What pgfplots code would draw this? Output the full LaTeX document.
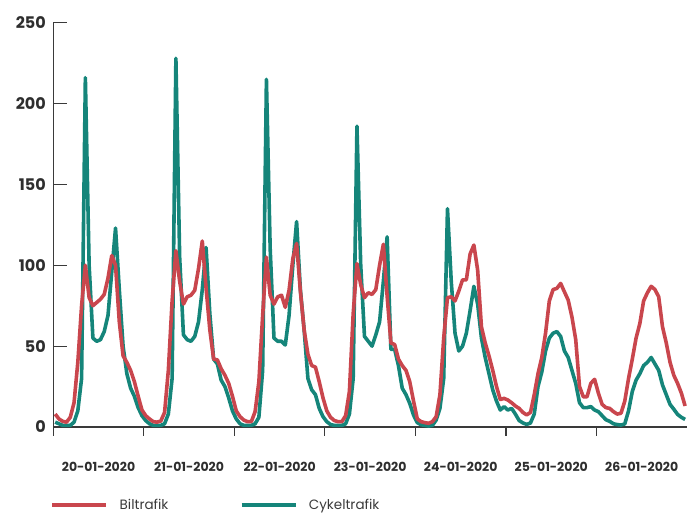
\documentclass[border=0pt]{standalone}
\usepackage{fontspec}
\setmainfont{Poppins}
\usepackage{pgfplots}
\pgfplotsset{compat=1.18}
\usepackage{pgfplotstable}

\definecolor{bil}{HTML}{C9464D}
\definecolor{cykel}{HTML}{15857A}
\definecolor{axisgray}{HTML}{3A3A3A}

% hourly counts, 20-01-2020 00:00 to 26-01-2020 23:00 (x = hour + 0.5)
\pgfplotstableread{
x bil cykel
0.5 8 3
1.5 5 2
2.5 3.5 1
3.5 3 1
4.5 6 1
5.5 15 3
6.5 40 10
7.5 75 30
8.5 100 216
9.5 80 100
10.5 75 55
11.5 77 53
12.5 79 54
13.5 82 59
14.5 92 69
15.5 106 96
16.5 100 123
17.5 65 85
18.5 44 50
19.5 40 33
20.5 35 24
21.5 28 19
22.5 19 12
23.5 10.5 7
24.5 7 4
25.5 5 2
26.5 3.3 1
27.5 3 1
28.5 3.7 1
29.5 9 2
30.5 35 8
31.5 78 30
32.5 109 228
33.5 90 105
34.5 76 57
35.5 80.5 54
36.5 81.5 53
37.5 84.5 56
38.5 98 65
39.5 115 85
40.5 86 111
41.5 60 70
42.5 42 42
43.5 41.5 39
44.5 36 29
45.5 32 25
46.5 27 18
47.5 19 10
48.5 10 5
49.5 6.4 2
50.5 4.3 1
51.5 3.3 1
52.5 3.3 1
53.5 9.5 2
54.5 28 6
55.5 69 35
56.5 105 215
57.5 81.5 110
58.5 76 55
59.5 80.5 53
60.5 81.5 53
61.5 74 50.7
62.5 84.5 69
63.5 104 100
64.5 113.5 127
65.5 84 85
66.5 60 60
67.5 45 30
68.5 38 23
69.5 37 20
70.5 28 11.5
71.5 18 6.4
72.5 10 3.3
73.5 6 1.5
74.5 4 1
75.5 3.3 1
76.5 3.3 1
77.5 7 2
78.5 22 8
79.5 70 30
80.5 101 186
81.5 88 100
82.5 80 56
83.5 83 53
84.5 82 50
85.5 85 57
86.5 100 65
87.5 113 90
88.5 81 117.6
89.5 52 48
90.5 51 48
91.5 42 38
92.5 38 24
93.5 35 20
94.5 28 14.6
95.5 16 7.4
96.5 5 2.7
97.5 3.3 1.4
98.5 2.7 1
99.5 2.3 0.6
100.5 3.3 1
101.5 6.4 4.3
102.5 20 11.5
103.5 55 30
104.5 80 135
105.5 80.5 90
106.5 78 58
107.5 84 47
108.5 91 50
109.5 91 58
110.5 107 72
111.5 112.5 87
112.5 97 76
113.5 62 55
114.5 52 43
115.5 44 33
116.5 35 23
117.5 25 16
118.5 17 10.5
119.5 17.7 12.6
120.5 16.7 10.5
121.5 15 11.5
122.5 13 8
123.5 11.5 4
124.5 9 2.5
125.5 7.5 1.6
126.5 9 2.5
127.5 20 8
128.5 33 25
129.5 43 34
130.5 58 47
131.5 78 55
132.5 85 58
133.5 85.7 59
134.5 88.8 56
135.5 83.6 47
136.5 78.5 43
137.5 68 35
138.5 54 27
139.5 25 15
140.5 18.7 12
141.5 18.7 12
142.5 27 12.6
143.5 29.5 10.5
144.5 21 9.5
145.5 14 7
146.5 12 4.5
147.5 11.5 3.5
148.5 9.5 2
149.5 8 1.5
150.5 8.5 1.2
151.5 16 1.9
152.5 30 10
153.5 42 22
154.5 55 29
155.5 64 33
156.5 78 38
157.5 83 40
158.5 87 43
159.5 85 39
160.5 80.5 35
161.5 62 26
162.5 52 20
163.5 40 14
164.5 32 11
165.5 27 7.8
166.5 21 6
167.5 13 4.7
}\traffic

\begin{document}
\begin{tikzpicture}
\path[use as bounding box] (-53.3pt,-87pt) rectangle (633.7pt,427pt);
\begin{axis}[
  scale only axis,
  width=633.7pt, height=404.3pt,
  xmin=0, xmax=168, ymin=0, ymax=250,
  axis x line=bottom, axis y line=left,
  axis line style={-, draw=axisgray, line width=1.2pt},
  tick align=inside, major tick length=14pt,
  ytick={0,50,100,150,200,250},
  ytick style={draw=axisgray, line width=1.2pt},
  xtick={12,36,60,84,108,132,156},
  xticklabels={20-01-2020,21-01-2020,22-01-2020,23-01-2020,24-01-2020,25-01-2020,26-01-2020},
  xtick style={draw=none},
  x tick label style={font=\fontsize{12.5}{14}\selectfont\bfseries, text=axisgray!80!black, yshift=-32pt},
  y tick label style={font=\fontsize{16}{18}\selectfont\bfseries, text=axisgray!80!black, xshift=-4pt},
  /pgf/number format/assume math mode=true,
  clip=false,
  legend columns=2,
  legend style={draw=none, fill=none, inner sep=0pt,
    at={(axis description cs:0,0)}, anchor=west, xshift=-3.3pt, yshift=-78pt,
    font=\fontsize{13.5}{14}\selectfont, text=axisgray,
    /tikz/every odd column/.style={column sep=9pt},
    /tikz/every even column/.style={column sep=69pt}},
  legend image code/.code={\draw[#1, line width=4.5pt] (0pt,0pt) -- (54pt,0pt);},
]
\pgfplotsinvokeforeach{0,24,48,72,96,120,144}{
  \draw[axisgray, line width=1.2pt] (axis cs:#1,0) -- ([yshift=-9pt]axis cs:#1,0);
}
\addlegendimage{bil}
\addlegendentry{Biltrafik}
\addlegendimage{cykel}
\addlegendentry{Cykeltrafik}
\addplot[cykel, line width=3.6pt, line join=round, forget plot] table[x=x, y=cykel] {\traffic};
\addplot[bil, line width=3.6pt, line join=round, forget plot] table[x=x, y=bil] {\traffic};
\end{axis}
\end{tikzpicture}
\end{document}
